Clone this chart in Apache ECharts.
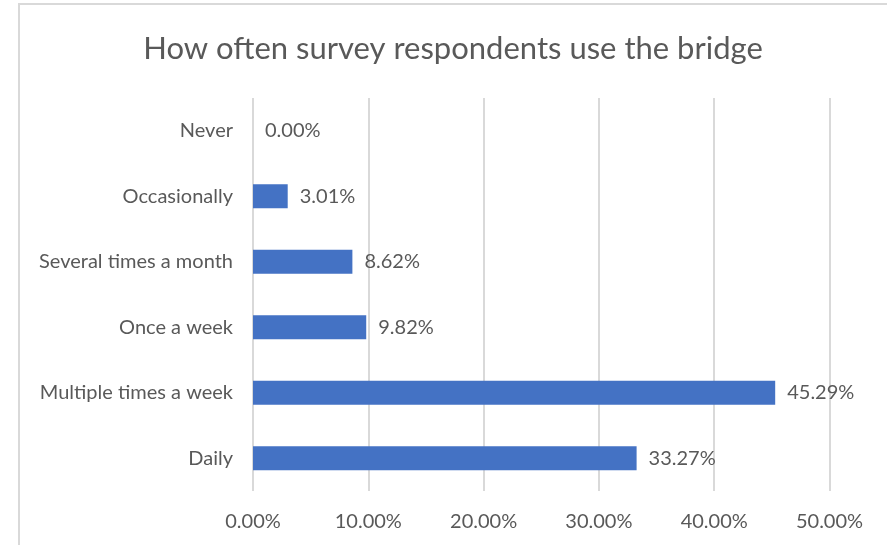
<!DOCTYPE html>
<html>
<head>
<meta charset="utf-8">
<script src="https://cdn.jsdelivr.net/npm/echarts@6/dist/echarts.min.js"></script>
<style>
  html, body { margin: 0; padding: 0; background: #ffffff; }
  #chart { width: 887px; height: 545px; }
</style>
</head>
<body>
<div id="chart"></div>
<script>
// Survey answers, bottom to top
const categories = ['Daily', 'Multiple times a week', 'Once a week', 'Several times a month', 'Occasionally', 'Never'];
const shares = [33.27, 45.29, 9.82, 8.62, 3.01, 0.00];
const axisMax = 50;
const axisStep = 10;

const textColor = '#595959';
const fontFamily = 'Lato, "Noto Sans", sans-serif';

const chart = echarts.init(document.getElementById('chart'), null, { renderer: 'canvas' });

chart.setOption({
  animation: false,
  backgroundColor: '#ffffff',
  title: {
    text: 'How often survey respondents use the bridge',
    left: 448,
    textAlign: 'center',
    top: 28,
    textStyle: { color: textColor, fontSize: 31, fontWeight: 'normal', fontFamily: fontFamily }
  },
  graphic: [{
    type: 'rect',
    shape: { x: 19, y: 4, width: 900, height: 600 },
    style: { fill: 'none', stroke: '#d9d9d9', lineWidth: 2 },
    silent: true,
    z: -1
  }],
  grid: { left: 253, right: 57.5, top: 98, bottom: 54, containLabel: false },
  xAxis: {
    type: 'value',
    min: 0,
    max: axisMax,
    interval: axisStep,
    axisLine: { show: false },
    axisTick: { show: false },
    splitLine: { show: true, lineStyle: { color: '#d9d9d9', width: 2 } },
    axisLabel: {
      color: textColor,
      fontSize: 20,
      fontFamily: fontFamily,
      margin: 21,
      formatter: v => v.toFixed(2) + '%'
    }
  },
  yAxis: {
    type: 'category',
    data: categories,
    axisLine: { show: false },
    axisTick: { show: false },
    axisLabel: { color: textColor, fontSize: 20, fontFamily: fontFamily, margin: 20 }
  },
  series: [{
    type: 'bar',
    data: shares,
    barWidth: '37%',
    itemStyle: { color: '#4472c4' },
    label: {
      show: true,
      position: 'right',
      distance: 12,
      color: textColor,
      fontSize: 20,
      fontFamily: fontFamily,
      formatter: p => p.value.toFixed(2) + '%'
    }
  }]
});
</script>
</body>
</html>
